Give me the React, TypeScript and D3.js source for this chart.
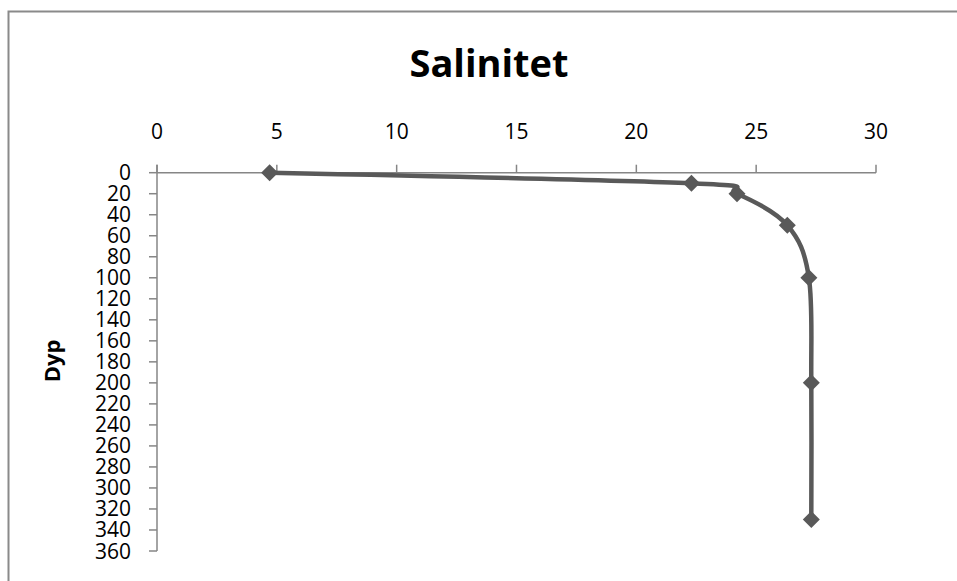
import React from "react";
import * as d3 from "d3";

const depths = [0, 10, 20, 50, 100, 200, 330];
const salinity = [4.7, 22.3, 24.2, 26.3, 27.2, 27.3, 27.3];
const xTicks = [0, 5, 10, 15, 20, 25, 30];
const yTicks = d3.range(0, 361, 20);
const title = "Salinitet";
const yLabel = "Dyp";

export default function App() {
  const W = 957, H = 581;
  const x = d3.scaleLinear().domain([0, 30]).range([157, 876]);
  const y = d3.scaleLinear().domain([0, 360]).range([172.7, 551]);
  const pts: [number, number][] = depths.map((d, i) => [x(salinity[i]), y(d)]);
  const line = d3.line().curve(d3.curveCardinal.tension(0))(pts) || "";
  const font = "'Open Sans', sans-serif";
  const axisColor = "#868686";
  const r = 8.5;
  return (
    <svg width={W} height={H} style={{ position: "absolute", left: 0, top: 0 }}>
      <rect x={0} y={0} width={W} height={H} fill="#fff" />
      <path d={`M8.5,${H + 5}V11.5H${W + 5}`} fill="none" stroke="#8a8a8a" strokeWidth={2} />
      <text x={489} y={77} textAnchor="middle" fontFamily={font} fontWeight="bold" fontSize={38} fill="#000">{title}</text>
      {/* x axis */}
      <line x1={x(0)} x2={x(30)} y1={y(0)} y2={y(0)} stroke={axisColor} strokeWidth={1.5} />
      {xTicks.map(t => (
        <g key={"x" + t}>
          <line x1={x(t)} x2={x(t)} y1={y(0)} y2={y(0) - 8} stroke={axisColor} strokeWidth={1.5} />
          <text x={x(t)} y={138.5} textAnchor="middle" fontFamily={font} fontSize={21} fill="#000">{t}</text>
        </g>
      ))}
      {/* y axis */}
      <line x1={x(0)} x2={x(0)} y1={y(0) - 8} y2={y(360)} stroke={axisColor} strokeWidth={1.5} />
      {yTicks.map(t => (
        <g key={"y" + t}>
          <line x1={x(0) - 8} x2={x(0)} y1={y(t)} y2={y(t)} stroke={axisColor} strokeWidth={1.5} />
          <text x={131} y={y(t) + 7.5} textAnchor="end" fontFamily={font} fontSize={21} fill="#000">{t}</text>
        </g>
      ))}
      <text transform="translate(60,361) rotate(-90)" textAnchor="middle" fontFamily={font} fontWeight="bold" fontSize={22} fill="#000">{yLabel}</text>
      <path d={line} fill="none" stroke="#595959" strokeWidth={4.5} strokeLinejoin="round" />
      {pts.map(([px, py], i) => (
        <path key={"m" + i} d={`M${px},${py - r}L${px + r},${py}L${px},${py + r}L${px - r},${py}Z`} fill="#595959" />
      ))}
    </svg>
  );
}
